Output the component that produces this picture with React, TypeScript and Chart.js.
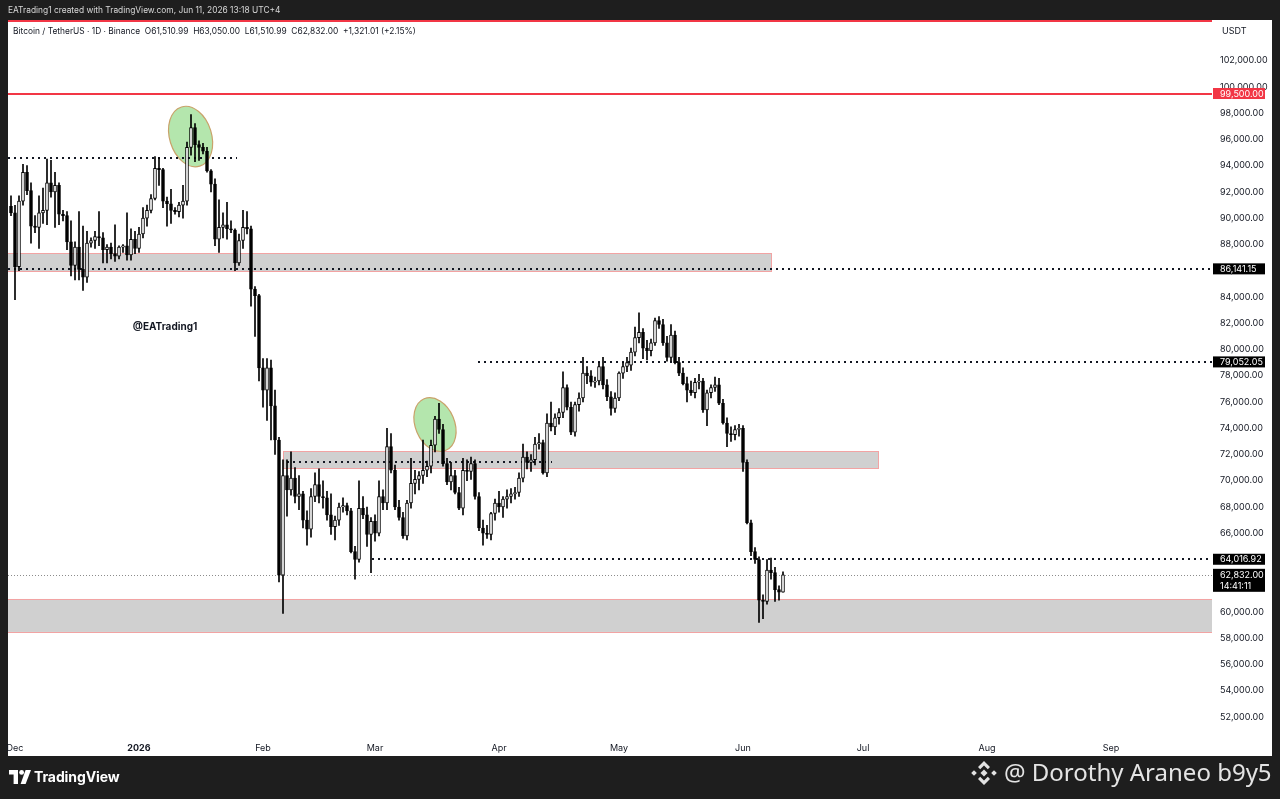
import React, { useEffect, useRef } from "react";
import { Chart, registerables } from "chart.js";

Chart.register(...registerables);

const FONT = "Inter, 'Liberation Sans', Arial, sans-serif";

// Day offsets are counted from 1 Dec 2025 (0). First candle: 30 Nov 2025.
const firstCandleDay = -1;

// Daily OHLC, 30 Nov 2025 .. 11 Jun 2026
const opens = [
  90900,
  // Dec
  90400, 86300, 91300, 93500, 92100, 89400, 89300, 90400, 90600, 92700, 92000, 92500, 90300, 90200, 88200, 86400,
  87800, 86100, 85500, 88100, 88300, 88600, 88500, 87600, 87800, 87300, 87100, 87800, 87900, 87200, 88400,
  // Jan
  87700, 88800, 90000, 90600, 91500, 93800, 93700, 91300, 91100, 90600, 90500, 91000, 91300, 95400, 96900, 95600,
  95400, 95100, 93600, 92600, 88400, 89300, 89500, 89200, 89100, 86600, 88300, 89300, 89200, 84600, 84100,
  // Feb
  78600, 76900, 78600, 75700, 73100, 62800, 70400, 69300, 70200, 68800, 69000, 67000, 66300, 68800, 69700, 68800,
  68700, 67400, 66500, 67000, 68000, 68100, 67700, 64600, 64000, 67900, 67400, 65900,
  // Mar
  66900, 66000, 68800, 68300, 72600, 70800, 68000, 67200, 65800, 68300, 69800, 70100, 70400, 70800, 71100, 72700,
  74700, 73900, 71300, 69900, 70400, 69100, 67900, 70800, 70700, 71300, 68800, 66400, 66000, 65900, 67500,
  // Apr
  68300, 68000, 68600, 68800, 69000, 69100, 70200, 71800, 71400, 71600, 72800, 72900, 70600, 74400, 74100, 74800,
  75200, 77100, 75600, 73700, 75800, 76300, 78200, 78000, 77500, 77600, 78700, 77300, 76400, 75500,
  // May
  76300, 78200, 78700, 78800, 79800, 80900, 81300, 80100, 79900, 80500, 82200, 81900, 80500, 79400, 81100, 79000,
  78200, 77400, 76900, 76700, 77500, 77600, 75400, 76700, 77100, 77300, 75900, 74400, 73600, 73500, 73900,
  // Jun
  74000, 71400, 66800, 64600, 64000, 60900, 60800, 63200, 63000, 61700, 61510.99,
];
const highs = [
  91700,
  90990, 91700, 94100, 94000, 92700, 90200, 91700, 92300, 94500, 94400, 93500, 92700, 90600, 90500, 89800, 88200,
  90500, 89400, 89000, 88500, 89000, 90500, 88900, 88000, 88100, 89500, 87900, 88000, 90400, 89200, 89000,
  89300, 90800, 91000, 91800, 94700, 94600, 93800, 91600, 92200, 90800, 91200, 92500, 95800, 97900, 97200, 95900,
  95700, 95400, 93700, 93000, 91400, 90400, 91200, 89800, 89200, 88800, 90600, 90500, 89400, 84800, 84200,
  79300, 79300, 79200, 76900, 73300, 71600, 71600, 72200, 71000, 70400, 69200, 67700, 69400, 70600, 70900, 70000,
  69200, 69000, 67300, 68300, 68700, 68300, 67900, 65000, 70000, 68800, 68000, 67200,
  67400, 70000, 69300, 74000, 73600, 71200, 68500, 67600, 68500, 71700, 70800, 70700, 73100, 71500, 73100, 74900,
  75900, 74300, 71700, 71400, 70800, 69500, 71700, 71600, 71800, 71600, 69100, 67000, 66600, 67600, 68600,
  69200, 68800, 69300, 69400, 69500, 70600, 72800, 72200, 72000, 73300, 73600, 73100, 75100, 76000, 75100, 75500,
  78300, 77300, 76000, 76000, 76700, 79400, 78700, 78400, 77900, 79000, 79400, 77700, 76800, 76700,
  78300, 79000, 79400, 80100, 81700, 82800, 81600, 80700, 80800, 82400, 82500, 82300, 81000, 81900, 81400, 79400,
  78600, 77900, 77600, 77800, 78100, 77800, 76900, 77300, 77900, 77800, 76200, 74800, 74100, 74200, 74300,
  74200, 71600, 67000, 64900, 64200, 61300, 64000, 64100, 63400, 62000, 63050,
];
const lows = [
  90200,
  83800, 86000, 91000, 91800, 88100, 88900, 87700, 89600, 89500, 91600, 89300, 89500, 89800, 87600, 85600, 85300,
  85300, 84500, 85100, 87800, 87700, 87900, 86600, 86600, 86900, 86700, 86900, 87400, 86800, 86800, 87300,
  87400, 88500, 89400, 90400, 91400, 92500, 90800, 89400, 89600, 90300, 90100, 90000, 91000, 94800, 94300, 94400,
  94900, 93500, 92000, 87900, 87400, 88500, 88400, 88900, 86000, 86400, 87700, 88800, 83300, 81000, 77600,
  75600, 74600, 73100, 72000, 62300, 59900, 67300, 68900, 68300, 67800, 66400, 65100, 65700, 68400, 68300, 67900,
  67000, 65900, 65500, 66600, 67600, 67400, 64500, 62500, 63800, 67100, 65000, 63000,
  65400, 65800, 67800, 67800, 70600, 67800, 67000, 65600, 65500, 67900, 69000, 69300, 69800, 70300, 70600, 72200,
  73600, 71100, 69700, 69300, 69000, 67800, 67400, 70000, 70100, 68600, 66200, 65100, 65600, 65500, 67000,
  67600, 67200, 67900, 68300, 68600, 68800, 69900, 70900, 70700, 71200, 72400, 70500, 70300, 73800, 73500, 74300,
  74800, 75400, 73500, 73400, 75300, 76000, 77400, 77200, 77100, 77300, 77000, 76100, 75000, 75200,
  76100, 77800, 78300, 78400, 79500, 80500, 79300, 79200, 79500, 80300, 81600, 80300, 79100, 79100, 78900, 78000,
  77300, 76000, 76500, 76300, 77000, 75200, 74200, 76300, 76800, 75800, 74300, 72600, 73000, 73100, 73400,
  70700, 66700, 64300, 63700, 59200, 59500, 60600, 62500, 60800, 60900, 61510.99,
];
const closes = [
  90400,
  86300, 91300, 93500, 92100, 89400, 89300, 90400, 90600, 92700, 92000, 92500, 90300, 90200, 88200, 86400, 87800,
  86100, 85500, 88100, 88300, 88600, 88500, 87600, 87800, 87300, 87100, 87800, 87900, 87200, 88400, 87700,
  88800, 90000, 90600, 91500, 93800, 93700, 91300, 91100, 90600, 90500, 91000, 91300, 95400, 96900, 95600, 95400,
  95100, 93600, 92600, 88400, 89300, 89500, 89200, 89100, 86600, 88300, 89300, 89200, 84600, 84100, 78600,
  76900, 78600, 75700, 73100, 62800, 70400, 69300, 70200, 68800, 69000, 67000, 66300, 68800, 69700, 68800, 68700,
  67400, 66500, 67000, 68000, 68100, 67700, 64600, 64000, 67900, 67400, 65900, 66900,
  66000, 68800, 68300, 72600, 70800, 68000, 67200, 65800, 68300, 69800, 70100, 70400, 70800, 71100, 72700, 74700,
  73900, 71300, 69900, 70400, 69100, 67900, 70800, 70700, 71300, 68800, 66400, 66000, 65900, 67500, 68300,
  68000, 68600, 68800, 69000, 69100, 70200, 71800, 71400, 71600, 72800, 72900, 70600, 74400, 74100, 74800, 75200,
  77100, 75600, 73700, 75800, 76300, 78200, 78000, 77500, 77600, 78700, 77300, 76400, 75500, 76300,
  78200, 78700, 79000, 79800, 80900, 81300, 80100, 79900, 80500, 82200, 81900, 80500, 79400, 81100, 79000, 78200,
  77400, 76900, 76700, 77500, 77600, 75400, 76700, 77100, 77300, 75900, 74400, 73600, 73500, 73900, 74000,
  71400, 66800, 64600, 64000, 60900, 60800, 63200, 63000, 61700, 61510.99, 62832,
];

// Axis ticks
const monthTickDays = [0, 31, 62, 90, 121, 151, 182, 212, 243, 274];
const monthTickLabels = ["Dec", "2026", "Feb", "Mar", "Apr", "May", "Jun", "Jul", "Aug", "Sep"];
const priceTicks = [
  52000, 54000, 56000, 58000, 60000, 62000, 64000, 66000, 68000, 70000, 72000, 74000, 76000, 78000, 80000,
  82000, 84000, 86000, 88000, 90000, 92000, 94000, 96000, 98000, 100000, 102000,
];

// Drawings (in data units: day offsets and prices)
const zoneTops = [87320, 72250, 60990];
const zoneBottoms = [85950, 70960, 58480];
const zoneStartDays = [-3, 67, -3];
const zoneEndDays = [189, 215.75, 301];

const dottedPrices = [94600, 86141.15, 79052.05, 71450, 64016.92];
const dottedStartDays = [-3, -3, 115.75, 68, 89.25];
const dottedEndDays = [55.5, 301, 301, 134.25, 301];

const redLinePrices = [105000, 99500];
const lastPrice = 62832;

const ellipseDays = [43.9, 105];
const ellipsePrices = [96220, 74280];
const ellipseHalfDays = [5.25, 4.9];
const ellipseHalfPrices = [2360, 2130];
const ellipseTilts = [-0.3, -0.4];

const axisLabelPrices = [99500, 86141.15, 79052.05, 64016.92];
const axisLabelTexts = ["99,500.00", "86,141.15", "79,052.05", "64,016.92"];
const axisLabelColors = ["#f23645", "#000000", "#000000", "#000000"];

const fmt = (v: number) =>
  v.toLocaleString("en-US", { minimumFractionDigits: 2, maximumFractionDigits: 2 });

const drawingsPlugin = {
  id: "tvDrawings",
  beforeDraw(chart: any) {
    const { ctx, width, height } = chart;
    ctx.save();
    ctx.fillStyle = "#1e1e1e";
    ctx.fillRect(0, 0, width, height);
    ctx.fillStyle = "#ffffff";
    ctx.fillRect(8, 20, 1264, 736);
    ctx.restore();
  },
  beforeDatasetsDraw(chart: any) {
    const { ctx, chartArea: a, scales } = chart;
    const x = scales.x;
    const y = scales.y;
    ctx.save();
    ctx.beginPath();
    ctx.rect(a.left, a.top, a.right - a.left, a.bottom - a.top);
    ctx.clip();

    // zones
    zoneTops.forEach((top, i) => {
      const x1 = Math.max(x.getPixelForValue(zoneStartDays[i]), a.left - 2);
      const x2 = Math.min(x.getPixelForValue(zoneEndDays[i]), a.right + 2);
      const y1 = y.getPixelForValue(top);
      const y2 = y.getPixelForValue(zoneBottoms[i]);
      ctx.fillStyle = "rgba(170,170,170,0.55)";
      ctx.fillRect(x1, y1, x2 - x1, y2 - y1);
      ctx.strokeStyle = "#f2a3a3";
      ctx.lineWidth = 1;
      ctx.strokeRect(Math.round(x1) + 0.5, Math.round(y1) + 0.5, Math.round(x2 - x1), Math.round(y2 - y1));
    });

    // ellipses
    ellipseDays.forEach((d, i) => {
      const cx = x.getPixelForValue(d);
      const cy = y.getPixelForValue(ellipsePrices[i]);
      const rx = Math.abs(x.getPixelForValue(d + ellipseHalfDays[i]) - cx);
      const ry = Math.abs(y.getPixelForValue(ellipsePrices[i] + ellipseHalfPrices[i]) - cy);
      ctx.beginPath();
      ctx.ellipse(cx, cy, rx, ry, ellipseTilts[i], 0, Math.PI * 2);
      ctx.fillStyle = "#b4e6ad";
      ctx.fill();
      ctx.strokeStyle = "#c9a26a";
      ctx.lineWidth = 1.2;
      ctx.stroke();
    });

    // red horizontal lines
    redLinePrices.forEach((p) => {
      const py = Math.round(y.getPixelForValue(p));
      ctx.fillStyle = "#f23645";
      ctx.fillRect(a.left, py - 1, a.right - a.left, 2);
    });

    // dotted levels
    ctx.setLineDash([2, 4]);
    ctx.strokeStyle = "#131722";
    ctx.lineWidth = 2;
    dottedPrices.forEach((p, i) => {
      const py = Math.round(y.getPixelForValue(p));
      const x1 = Math.max(x.getPixelForValue(dottedStartDays[i]), a.left);
      const x2 = Math.min(x.getPixelForValue(dottedEndDays[i]), a.right);
      ctx.beginPath();
      ctx.moveTo(x1, py);
      ctx.lineTo(x2, py);
      ctx.stroke();
    });

    // last price line
    ctx.setLineDash([1, 2]);
    ctx.strokeStyle = "#8c8c8c";
    ctx.lineWidth = 1;
    const ly = Math.round(y.getPixelForValue(lastPrice)) + 0.5;
    ctx.beginPath();
    ctx.moveTo(a.left, ly);
    ctx.lineTo(a.right, ly);
    ctx.stroke();
    ctx.setLineDash([]);

    ctx.restore();
  },
  afterDatasetsDraw(chart: any) {
    const { ctx, scales } = chart;
    ctx.save();
    ctx.fillStyle = "#131722";
    ctx.font = `bold 10px ${FONT}`;
    ctx.textAlign = "center";
    ctx.textBaseline = "middle";
    ctx.fillText("@EATrading1", scales.x.getPixelForValue(37.5), scales.y.getPixelForValue(81700));
    ctx.restore();
  },
  afterDraw(chart: any) {
    const { ctx, chartArea: a, scales } = chart;
    const y = scales.y;
    ctx.save();
    ctx.font = `9px ${FONT}`;
    ctx.textAlign = "left";
    ctx.textBaseline = "middle";
    // USDT
    ctx.fillStyle = "#131722";
    ctx.fillText("USDT", a.right + 10, 31);
    axisLabelPrices.forEach((p, i) => {
      const py = y.getPixelForValue(p);
      ctx.fillStyle = axisLabelColors[i];
      ctx.fillRect(a.right + 1, py - 5.5, 52, 11);
      ctx.fillStyle = "#ffffff";
      ctx.fillText(axisLabelTexts[i], a.right + 8, py + 0.5);
    });
    // last price label with countdown
    const py = y.getPixelForValue(lastPrice);
    ctx.fillStyle = "#000000";
    ctx.fillRect(a.right + 1, py - 6, 52, 23);
    ctx.fillStyle = "#ffffff";
    ctx.fillText(fmt(lastPrice), a.right + 8, py);
    ctx.fillText("14:41:11", a.right + 8, py + 11);
    ctx.restore();
  },
};

export default function App() {
  const canvasRef = useRef<HTMLCanvasElement | null>(null);

  useEffect(() => {
    if (!canvasRef.current) return;
    const days = opens.map((_, i) => firstCandleDay + i);
    const chart = new Chart(canvasRef.current, {
      type: "bar",
      data: {
        datasets: [
          {
            label: "wicks",
            data: days.map((d, i) => ({ x: d, y: [lows[i], highs[i]] })) as any,
            backgroundColor: "#000000",
            barThickness: 1,
            grouped: false,
            order: 2,
          } as any,
          {
            label: "bodies",
            data: days.map((d, i) => ({ x: d, y: [opens[i], closes[i]] })) as any,
            backgroundColor: opens.map((o, i) => (closes[i] >= o ? "#ffffff" : "#000000")),
            borderColor: "#000000",
            borderWidth: 1,
            borderSkipped: false,
            barThickness: 3,
            minBarLength: 1,
            grouped: false,
            order: 1,
          } as any,
        ],
      },
      options: {
        animation: false,
        responsive: false,
        devicePixelRatio: 1,
        layout: { padding: { left: 8, top: 20, right: 8, bottom: 43 } },
        plugins: { legend: { display: false }, tooltip: { enabled: false } },
        scales: {
          x: {
            type: "linear",
            min: -1.75,
            max: 299.25,
            offset: false,
            grid: { display: false, drawTicks: false },
            border: { display: false },
            afterBuildTicks: (s: any) => {
              s.ticks = monthTickDays.map((v) => ({ value: v }));
            },
            afterFit: (s: any) => {
              s.height = 18;
              s.paddingLeft = 0;
              s.paddingRight = 0;
            },
            ticks: {
              autoSkip: false,
              maxRotation: 0,
              padding: 5,
              color: "#131722",
              font: (c: any) => ({
                family: FONT,
                size: 9,
                weight: c.tick && c.tick.value === 31 ? "bold" : "normal",
              }),
              callback: (v: any) => {
                const k = monthTickDays.indexOf(Number(v));
                return k >= 0 ? monthTickLabels[k] : "";
              },
            },
          } as any,
          y: {
            position: "right",
            min: 50400,
            max: 105100,
            grid: { display: false, drawTicks: false },
            border: { display: false },
            afterBuildTicks: (s: any) => {
              s.ticks = priceTicks.map((v) => ({ value: v }));
            },
            afterFit: (s: any) => {
              s.width = 60;
              s.paddingTop = 0;
              s.paddingBottom = 0;
            },
            ticks: {
              padding: 8,
              color: "#131722",
              font: { family: FONT, size: 9 },
              callback: (v: any) => fmt(Number(v)),
            },
          } as any,
        },
      },
      plugins: [drawingsPlugin],
    });
    return () => chart.destroy();
  }, []);

  return (
    <div
      style={{
        position: "fixed",
        left: 0,
        top: 0,
        width: 1280,
        height: 799,
        background: "#1e1e1e",
        overflow: "hidden",
        fontFamily: FONT,
      }}
    >
      <canvas
        ref={canvasRef}
        width={1280}
        height={799}
        style={{ position: "absolute", left: 0, top: 0, width: 1280, height: 799, display: "block" }}
      />
      <div
        style={{
          position: "absolute",
          left: 8,
          top: 4,
          fontSize: 8.4,
          lineHeight: "12px",
          color: "#d8d8d8",
          whiteSpace: "nowrap",
        }}
      >
        EATrading1 created with TradingView.com, Jun 11, 2026 13:18 UTC+4
      </div>
      <div
        style={{
          position: "absolute",
          left: 13,
          top: 25,
          fontSize: 8.4,
          lineHeight: "12px",
          color: "#131722",
          whiteSpace: "pre",
        }}
      >
        {"Bitcoin / TetherUS · 1D · Binance  O61,510.99  H63,050.00  L61,510.99  C62,832.00  +1,321.01 (+2.15%)"}
      </div>
      <div style={{ position: "absolute", left: 9, top: 770, display: "flex", alignItems: "center" }}>
        <svg width="23" height="14" viewBox="0 0 23 14">
          <path d="M0 0 H9 V14 H4.6 V4.4 H0 Z" fill="#ffffff" />
          <circle cx="12.6" cy="2.4" r="2.4" fill="#ffffff" />
          <path d="M16.6 0 H22 L16.6 14 H11.6 Z" fill="#ffffff" />
        </svg>
      </div>
      <div
        style={{
          position: "absolute",
          left: 34,
          top: 767,
          fontSize: 14,
          fontWeight: 700,
          color: "#ffffff",
          lineHeight: "20px",
          letterSpacing: "-0.1px",
        }}
      >
        TradingView
      </div>
      <svg
        width="28"
        height="28"
        viewBox="0 0 28 28"
        style={{ position: "absolute", left: 970, top: 759 }}
      >
        <g fill="#e2e2e2">
          <rect x="11.5" y="11.5" width="5" height="5" transform="rotate(45 14 14)" />
          <rect x="2" y="12" width="4" height="4" transform="rotate(45 4 14)" />
          <rect x="22" y="12" width="4" height="4" transform="rotate(45 24 14)" />
          <path d="M14 2 L20 8 L17.8 10.2 L14 6.4 L10.2 10.2 L8 8 Z" />
          <path d="M14 26 L20 20 L17.8 17.8 L14 21.6 L10.2 17.8 L8 20 Z" />
        </g>
      </svg>
      <div
        style={{
          position: "absolute",
          left: 1004,
          top: 756,
          fontSize: 24,
          fontFamily: "'Noto Sans', 'Open Sans', sans-serif",
          color: "#e4e4e4",
          lineHeight: "32px",
          whiteSpace: "nowrap",
        }}
      >
        @ Dorothy Araneo b9y5
      </div>
    </div>
  );
}
